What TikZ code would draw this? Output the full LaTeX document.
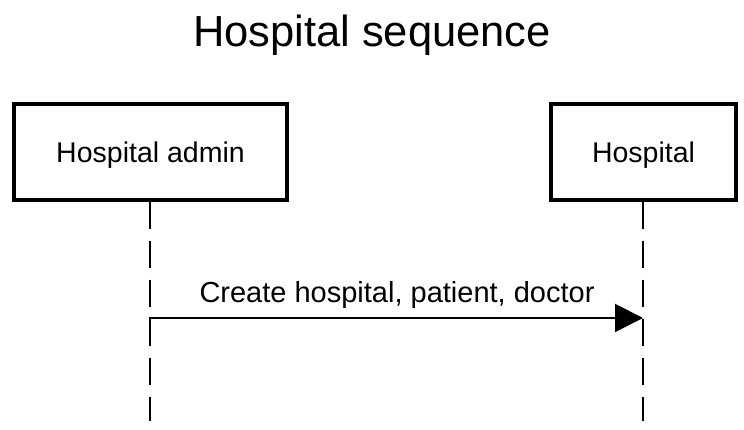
\documentclass[tikz,border=0pt]{standalone}
\usepackage{fontspec}
\setmainfont{Liberation Sans}
\usetikzlibrary{arrows.meta}
\begin{document}
\begin{tikzpicture}[x=1pt,y=1pt,
  actor/.style={draw=black,line width=3.5pt,fill=white,inner sep=0pt,text height=20.5pt,text depth=0pt,font=\fontsize{28.5}{34}\selectfont},
  lifeline/.style={draw=black,line width=2.2pt,dash pattern=on 27pt off 12pt},
  msg/.style={draw=black,line width=2pt,-{Triangle[length=28pt,width=28pt]}},
  lbl/.style={font=\fontsize{29}{34}\selectfont,inner sep=0pt,anchor=base}]
\useasboundingbox (0,0) rectangle (744,-430);
\fill[white] (0,0) rectangle (744,-430);
\node[lbl,font=\fontsize{43.5}{50}\selectfont] (title) at (372,-47) {Hospital sequence};
\node[actor,minimum width=273pt,minimum height=96pt] (admin) at (150.5,-152) {Hospital admin};
\node[actor,minimum width=185pt,minimum height=96pt] (hosp) at (643.5,-152) {Hospital};
\coordinate (adminEnd) at (150,-421);
\coordinate (hospEnd) at (643,-421);
\coordinate (m1s) at (150,-318);
\coordinate (m1e) at (643,-318);
\draw[lifeline] (admin.south -| adminEnd) -- (adminEnd);
\draw[lifeline] (hosp.south -| hospEnd) -- (hospEnd);
\draw[black,line width=2pt] (m1s) ++(0,-1) -- (m1s) -- ++(2,0);
\draw[msg] (m1s) -- (m1e);
\node[lbl] (m1lbl) at (397,-302) {Create hospital, patient, doctor};
\end{tikzpicture}
\end{document}
